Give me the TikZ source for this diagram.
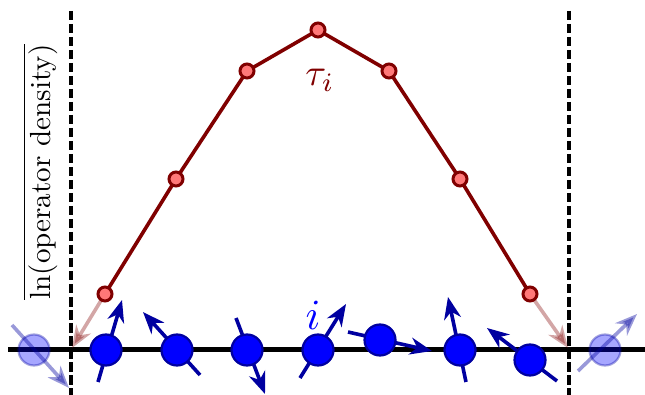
\documentclass[tikz,border=0pt]{standalone}
\usepackage{graphicx}
\usetikzlibrary{arrows.meta}
\definecolor{maroonr}{RGB}{128,0,0}
\definecolor{pinkr}{RGB}{255,120,120}
\definecolor{spinblue}{RGB}{0,0,160}
\definecolor{siteblue}{RGB}{0,0,255}
\begin{document}
\begin{tikzpicture}[x=1pt,y=-1pt,
  spintip/.style={-{Stealth[length=22pt,width=17pt,inset=7pt]}},
  spin/.style={draw=spinblue,line width=3.6pt,spintip},
  site/.style={circle,fill=siteblue,draw=spinblue,line width=2.2pt,minimum size=31pt,inner sep=0pt},
  ghost/.style={site,opacity=0.35},
  ghostspin/.style={spin,opacity=0.4},
  chainpt/.style={circle,fill=pinkr,draw=maroonr,line width=3pt,minimum size=14pt,inner sep=0pt},
  chain/.style={draw=maroonr,line width=3.6pt},
  fadearrow/.style={draw=maroonr,opacity=0.35,line width=3.6pt,-{Stealth[length=22pt,width=17pt,inset=7pt]}},
  bound/.style={draw=black,line width=3.2pt,dash pattern=on 9.5pt off 3.5pt}]
\useasboundingbox (0,0) rectangle (645,395);
% baseline
\coordinate (L) at (8,349);
\coordinate (R) at (645,349);
\draw[line width=5pt] (L) -- (R);
% boundaries
\coordinate (bl1) at (71,11); \coordinate (bl2) at (71,395);
\coordinate (br1) at (569,11); \coordinate (br2) at (569,395);
\draw[bound] (bl1) -- (bl2);
\draw[bound] (br1) -- (br2);
\coordinate (el) at (72,348);
\coordinate (er) at (568,348);
% spins
\coordinate (t1) at (98,382); \coordinate (h1) at (122,300);
\coordinate (t2) at (200,375); \coordinate (h2) at (143,312);
\coordinate (t3) at (236,318); \coordinate (h3) at (265,394);
\coordinate (t4) at (300,378); \coordinate (h4) at (346,304);
\coordinate (t5) at (348,332); \coordinate (h5) at (432,351);
\coordinate (t6) at (466,382); \coordinate (h6) at (448,297);
\coordinate (t7) at (557,381); \coordinate (h7) at (487,328);
\coordinate (tg1) at (12,325); \coordinate (hg1) at (69,388);
\coordinate (tg2) at (578,371); \coordinate (hg2) at (637,314);
\foreach \k in {1,...,7} {\draw[spin] (t\k) -- (h\k);}
% ghosts
\node[ghost] (g1) at (34,350) {};
\node[ghost] (g2) at (605,350) {};
\draw[ghostspin] (tg1) -- (hg1);
\draw[ghostspin] (tg2) -- (hg2);
% sites
\node[site] (s1) at (106,350) {};
\node[site] (s2) at (177,350) {};
\node[site] (s3) at (247,350) {};
\node[site] (s4) at (318,350) {};
\node[site] (s5) at (380,340) {};
\node[site] (s6) at (460,350) {};
\node[site] (s7) at (530,360) {};
% chain
\coordinate (p1) at (105,294);
\coordinate (p2) at (176,179);
\coordinate (p3) at (247,71);
\coordinate (p4) at (318,30);
\coordinate (p5) at (389,71);
\coordinate (p6) at (460,179);
\coordinate (p7) at (530,294);
\draw[fadearrow] (p1) -- (el);
\draw[fadearrow] (p7) -- (er);
\draw[chain] (p1) -- (p2) -- (p3) -- (p4) -- (p5) -- (p6) -- (p7);
\foreach \k in {1,...,7} {\node[chainpt] (c\k) at (p\k) {};}
% labels
\node[text=maroonr,inner sep=0pt] (tau) at (320,80) {\scalebox{3.8}{$\tau_i$}};
\node[text=siteblue,inner sep=0pt] (ilab) at (313,315) {\scalebox{4.3}{$i$}};
\node[rotate=90,inner sep=0pt] (ylab) at (40,172) {\scalebox{2.91}{$\overline{\mbox{ln(operator density)}}$}};
\end{tikzpicture}
\end{document}
